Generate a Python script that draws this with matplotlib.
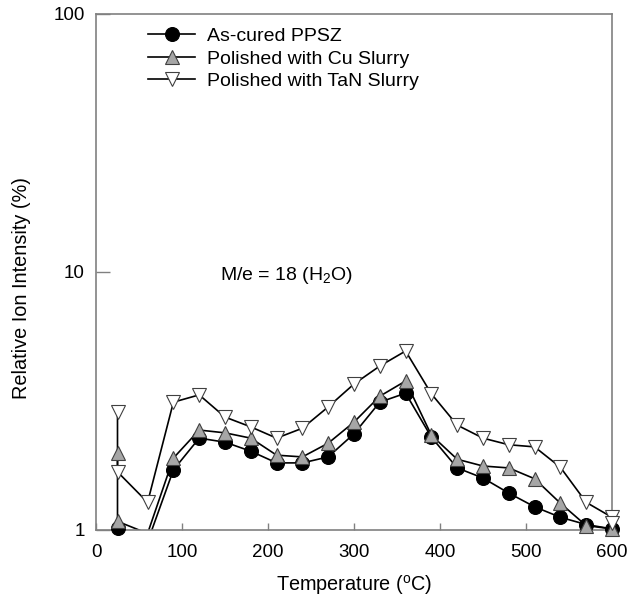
import numpy as np
import matplotlib
matplotlib.use('Agg')
import matplotlib.pyplot as plt

plt.rcParams['font.family'] = ['Liberation Sans', 'DejaVu Sans']
plt.rcParams['mathtext.fontset'] = 'custom'
plt.rcParams['mathtext.rm'] = 'Liberation Sans'
plt.rcParams['mathtext.it'] = 'Liberation Sans:italic'

# Data (temperature in C, relative ion intensity in %)
temp_cured = [25, 60, 90, 120, 150, 180, 210, 240, 270, 300, 330, 360, 390,
              420, 450, 480, 510, 540, 570, 600]
as_cured = [1.02, 0.90, 1.71, 2.27, 2.19, 2.02, 1.82, 1.82, 1.92, 2.36, 3.13,
            3.39, 2.29, 1.74, 1.59, 1.39, 1.23, 1.12, 1.05, 1.01]

temp_cu = [25, 25, 60, 90, 120, 150, 180, 210, 240, 270, 300, 330, 360, 390,
           420, 450, 480, 510, 540, 570, 600]
cu_slurry = [1.99, 1.08, 0.97, 1.90, 2.44, 2.38, 2.27, 1.95, 1.92, 2.17, 2.62,
             3.30, 3.78, 2.33, 1.88, 1.77, 1.74, 1.58, 1.27, 1.04, 1.01]

temp_tan = [25, 25, 60, 90, 120, 150, 180, 210, 240, 270, 300, 330, 360, 390,
            420, 450, 480, 510, 540, 570, 600, 600]
tan_slurry = [2.87, 1.68, 1.28, 3.13, 3.34, 2.74, 2.51, 2.27, 2.48, 3.00, 3.68,
              4.32, 4.94, 3.37, 2.55, 2.27, 2.14, 2.10, 1.75, 1.28, 1.12, 1.06]

labels = ['As-cured PPSZ', 'Polished with Cu Slurry', 'Polished with TaN Slurry']

fig = plt.figure(figsize=(6.41, 6.05), dpi=100)
ax = fig.add_axes([96/641, 75/605, 516/641, 516/605])

series = [
    (temp_cured, as_cured, 'o', 'black', 'black'),
    (temp_cu, cu_slurry, '^', '#a6a6a6', '#404040'),
    (temp_tan, tan_slurry, 'v', 'white', '#404040'),
]

for (t, v, mk, fc, ec), lab in zip(series, labels):
    t = np.array(t)
    v = np.array(v)
    # connecting lines are clipped at the axes
    ax.plot(t, v, '-', color='black', lw=1.2, zorder=2)
    # markers sit on the axis edge without clipping
    keep = v >= 0.99
    ax.plot(t[keep], v[keep], ls='none', marker=mk, ms=10, mfc=fc, mec=ec,
            mew=0.8, clip_on=False, zorder=3)
    # proxy for legend
    ax.plot([], [], '-', color='black', lw=1.2, marker=mk, ms=10, mfc=fc,
            mec=ec, mew=0.8, label=lab)

ax.set_yscale('log')
ax.set_xlim(0, 600)
ax.set_ylim(1, 100)
ax.set_xticks(range(0, 601, 100))
ax.set_yticks([1, 10, 100])
ax.set_yticklabels(['1', '10', '100'])
ax.yaxis.set_minor_locator(matplotlib.ticker.NullLocator())
ax.tick_params(axis='both', direction='in', length=5, width=1, color='#808080',
               labelsize=13.5)
ax.tick_params(axis='x', pad=10)
ax.tick_params(axis='y', length=10, pad=8)
for s in ax.spines.values():
    s.set_color('#808080')
    s.set_linewidth(1.2)

ax.set_xlabel('Temperature ($^{\\rm o}$C)', fontsize=14.3, labelpad=9)
ax.set_ylabel('Relative Ion Intensity (%)', fontsize=14.3)
ax.yaxis.set_label_coords(-0.125, 0.469)

ax.text(144, 9.7, 'M/e = 18 (H$_2$O)', fontsize=14, va='center', ha='left')

ax.legend(loc='upper left', bbox_to_anchor=(0.075, 1.0), frameon=False,
          fontsize=14, handlelength=2.4, labelspacing=0.25, handletextpad=0.6,
          borderaxespad=0.3)

fig.savefig('out.png', dpi=100)
